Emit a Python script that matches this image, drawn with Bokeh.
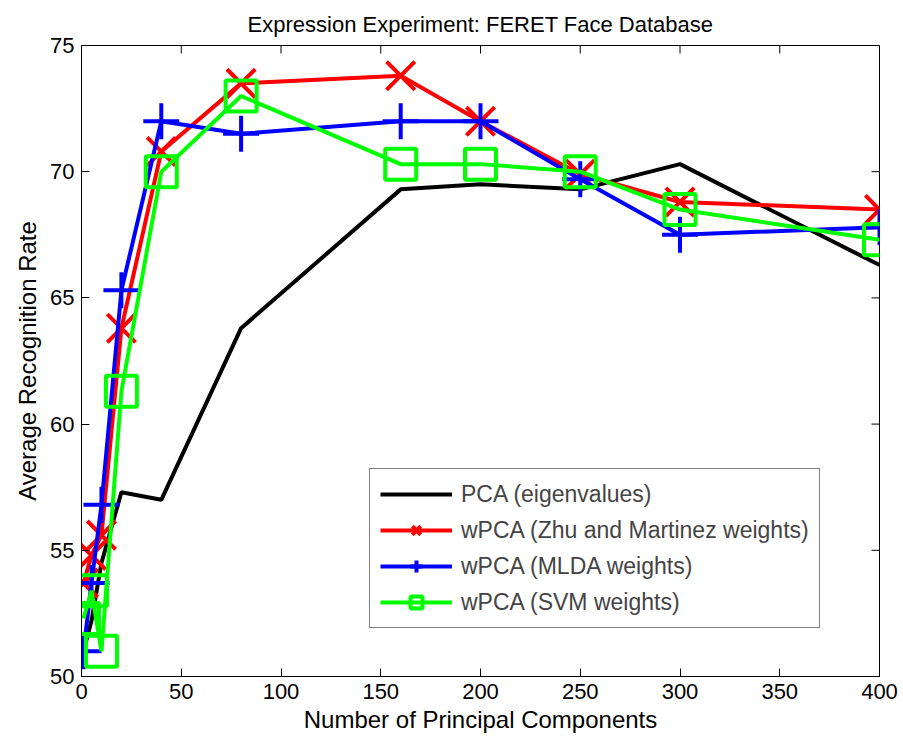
import math

from bokeh.plotting import figure
from bokeh.models import Legend, LegendItem, Range1d
from bokeh.embed import file_html
from bokeh.resources import INLINE

# Number of principal components kept
components = [1, 5, 10, 20, 40, 80, 160, 200, 250, 300, 400]

# Average recognition rate (%) for each method
pca_eigen = [51.0, 52.2, 54.5, 57.3, 57.0, 63.8, 69.3, 69.5, 69.3, 70.3, 66.3]
wpca_zhu = [53.7, 54.8, 55.6, 63.8, 70.8, 73.5, 73.8, 72.0, 69.9, 68.8, 68.5]
wpca_mlda = [51.0, 53.7, 56.8, 65.3, 72.0, 71.5, 72.0, 72.0, 69.7, 67.5, 67.8]
wpca_svm = [52.3, 53.4, 51.0, 61.3, 70.0, 73.0, 70.3, 70.3, 70.0, 68.5, 67.3]

x_ticks = [0, 50, 100, 150, 200, 250, 300, 350, 400]
y_ticks = [50, 55, 60, 65, 70, 75]

X_MIN, X_MAX = 0, 400
Y_MIN, Y_MAX = 50, 75

FONT = "Liberation Sans"

p = figure(
    width=903, height=742,
    output_backend="svg", toolbar_location=None,
    x_range=Range1d(X_MIN, X_MAX), y_range=Range1d(Y_MIN, Y_MAX),
    min_border_left=81, min_border_right=24,
    min_border_top=45, min_border_bottom=66,
    title="Expression Experiment: FERET Face Database",
)
p.title.text_font = FONT
p.title.text_font_size = "22px"
p.title.text_font_style = "normal"
p.title.align = "center"
p.title.text_color = "black"
p.title.standoff = 18

p.outline_line_color = "black"
p.outline_line_width = 1
p.xgrid.visible = False
p.ygrid.visible = False
p.background_fill_color = "white"
p.border_fill_color = "white"

for ax in (p.xaxis[0], p.yaxis[0]):
    ax.major_tick_in = 8
    ax.major_tick_out = 0
    ax.minor_tick_line_color = None
    ax.axis_line_color = "black"
    ax.major_tick_line_color = "black"
    ax.major_label_text_font = FONT
    ax.major_label_text_font_size = "22px"
    ax.major_label_text_color = "black"
    ax.axis_label_text_font = FONT
    ax.axis_label_text_font_size = "24px"
    ax.axis_label_text_font_style = "normal"
    ax.axis_label_text_color = "black"

p.xaxis.ticker = x_ticks
p.yaxis.ticker = y_ticks
p.xaxis.axis_label = "Number of Principal Components"
p.yaxis.axis_label = "Average Recognition Rate"
p.xaxis.major_label_standoff = 7
p.yaxis.major_label_standoff = 7
p.xaxis.axis_label_standoff = 4
p.yaxis.axis_label_standoff = 6

# inward ticks mirrored on the top and right edges of the box
# (dash markers centred on the edge; the frame clips the outer half)
p.scatter(x_ticks, [Y_MAX] * len(x_ticks), marker="dash", size=16,
          angle=math.pi / 2, line_color="black", line_width=1)
p.scatter([X_MAX] * len(y_ticks), y_ticks, marker="dash", size=16,
          line_color="black", line_width=1)

LW = 4

r_pca = p.line(components, pca_eigen, line_color="black", line_width=LW)

l_zhu = p.line(components, wpca_zhu, line_color="#ff0000", line_width=LW)
m_zhu = p.scatter(components, wpca_zhu, marker="x", size=40,
                  line_color="#ff0000", line_width=LW)

l_mlda = p.line(components, wpca_mlda, line_color="#0000ff", line_width=LW)
m_mlda = p.scatter(components, wpca_mlda, marker="cross", size=36,
                   line_color="#0000ff", line_width=LW)

l_svm = p.line(components, wpca_svm, line_color="#00ff00", line_width=LW)
m_svm = p.scatter(components, wpca_svm, marker="square", size=31,
                  line_color="#00ff00", fill_color=None, line_width=LW)

legend = Legend(
    items=[
        LegendItem(label="PCA (eigenvalues)", renderers=[r_pca]),
        LegendItem(label="wPCA (Zhu and Martinez weights)", renderers=[l_zhu, m_zhu]),
        LegendItem(label="wPCA (MLDA weights)", renderers=[l_mlda, m_mlda]),
        LegendItem(label="wPCA (SVM weights)", renderers=[l_svm, m_svm]),
    ],
    location=(288, 48),
    glyph_width=72, glyph_height=30,
    label_text_font=FONT, label_text_font_size="23px",
    label_standoff=9, spacing=6, padding=10, margin=0,
    border_line_color="black", border_line_width=1,
    background_fill_color="white", background_fill_alpha=1,
)
p.add_layout(legend)

open("out.html", "w").write(file_html(p, INLINE))
